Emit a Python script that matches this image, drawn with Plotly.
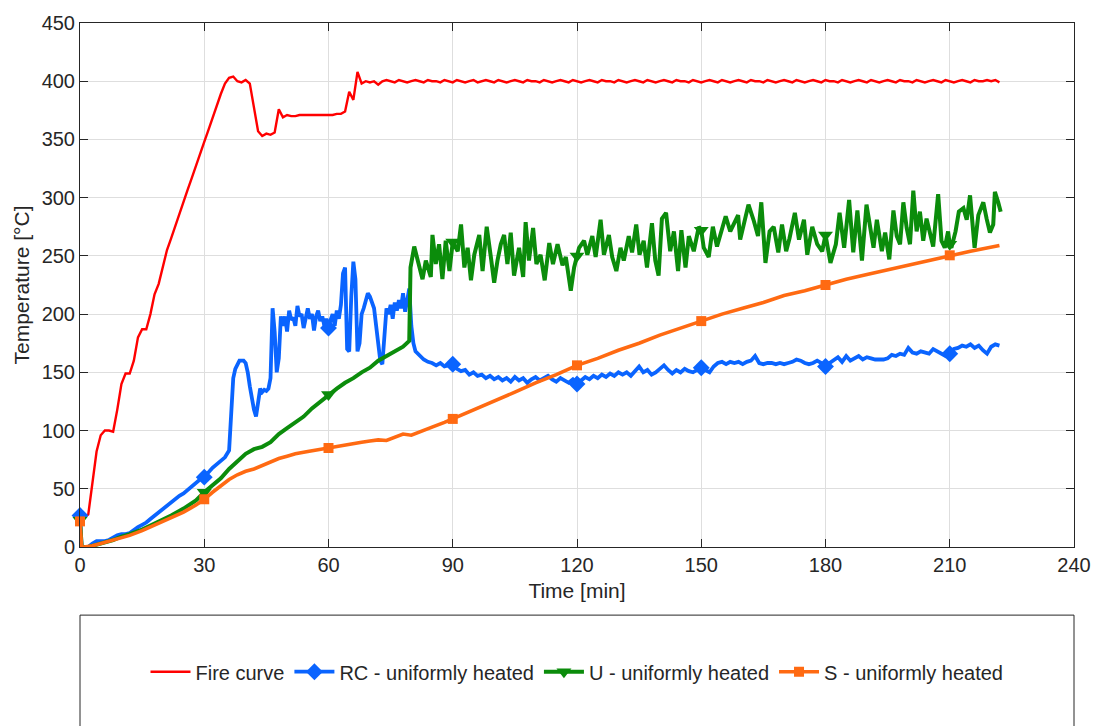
import numpy as np
import plotly.graph_objects as go

# ---------------- data ----------------
fire_t = list(range(0, 223))
fire_T = [27, 25, 28, 55, 82, 96, 100, 100, 99, 118,
          140, 149, 149, 160, 180, 187, 187, 200, 217, 226,
          240, 255, 265, 276, 286, 297, 307, 317, 328, 338,
          348, 358, 369, 379, 389, 398, 403, 404, 400, 399,
          401, 398, 378, 357, 353, 355, 354, 356, 376, 369,
          371, 370, 370, 371, 371, 371, 371, 371, 371, 371,
          371, 371, 372, 372, 374, 391, 384, 408, 398, 400,
          399, 400, 397,
          400, 401, 400, 399, 401, 400, 399, 400, 401, 400, 399, 401, 400, 400, 399,
          401, 400, 399, 401, 400, 399, 400, 401, 399, 400, 401, 400, 399, 401, 400,
          399, 400, 401, 400, 399, 401, 400, 400, 399, 401, 400, 399, 400, 401, 400,
          399, 401, 400, 399, 400, 401, 400, 399, 401, 400, 400, 399, 401, 400, 399,
          400, 401, 400, 399, 401, 400, 399, 400, 401, 400, 399, 401, 400, 400, 399,
          401, 400, 399, 400, 401, 400, 399, 401, 400, 399, 400, 401, 400, 399, 401,
          400, 400, 399, 401, 400, 399, 400, 401, 400, 399, 401, 400, 399, 400, 401,
          400, 399, 401, 400, 400, 399, 401, 400, 399, 400, 401, 400, 399, 401, 400,
          399, 400, 401, 400, 399, 401, 400, 400, 399, 401, 400, 399, 400, 401, 400,
          399, 401, 400, 399, 400, 401, 400, 399, 401, 400, 400, 401, 400, 401, 399]

rc_t = ([0, 0.4] + list(range(1, 37)) +
        [36.5, 37, 37.5, 38, 38.5, 39, 39.5, 40, 40.5, 41, 41.5, 42, 42.5, 43, 43.5, 44, 44.5,
         45, 45.5, 46, 46.5, 47, 47.5, 48, 48.5, 49, 49.5, 50, 50.5, 51, 51.5, 52, 52.5, 53,
         53.5, 54, 54.5, 55, 55.5, 56, 56.5, 57, 57.5, 58, 58.5, 59, 59.5, 60, 60.5, 61, 61.5,
         62, 62.5, 63, 63.5, 64, 64.5, 65, 65.5, 66, 66.5, 67, 67.5, 68, 68.5, 69, 69.5, 70,
         70.5, 71, 71.5, 72, 72.5, 73, 73.5, 74, 74.5, 75, 75.5, 76, 76.5, 77, 77.5, 78, 78.5,
         79, 79.5, 80, 80.5, 81] + list(range(82, 223)))
rc_T = [27, 0, 0, 0, 3, 5, 5, 5, 6, 8, 10, 11, 11, 12, 15, 17, 19, 21, 24, 27, 29, 32, 35, 38,
        41, 44, 46, 49, 52, 55, 57, 60, 64, 68, 71, 74, 77, 83,
        110, 145, 153, 157, 160, 160, 160, 158, 150, 138, 125, 118, 112, 125, 136, 133, 135,
        134, 136, 145, 205, 185, 150, 162, 198, 190, 198, 185, 203, 195, 197, 190, 207, 198,
        200, 188, 195, 205, 196, 200, 186, 198, 203, 194, 198, 190, 196, 188, 195, 200, 190,
        203, 196, 208, 235, 240, 170, 168, 215, 245, 230, 168, 175, 200, 205, 212, 218, 215,
        210, 205, 190, 175, 160, 157, 185, 205, 200, 208, 196, 210, 203, 212, 205, 218, 202,
        212, 222, 190, 175, 168,
        164, 161, 159, 158, 156, 158, 155, 156, 157, 153, 151, 152, 148, 150, 147, 148, 145,
        147, 144, 146, 143, 145, 142, 146, 143, 145, 141, 144, 146, 143, 145, 147, 144, 142,
        145, 143, 141, 144, 140, 143, 146, 144, 147, 145, 148, 146, 149, 147, 150, 148, 150,
        147, 151, 155, 150, 152, 148, 150, 153, 156, 152, 149, 152, 150, 153, 151, 150, 152,
        154, 152, 150, 155, 158, 159, 157, 159, 158, 159, 157, 159, 160, 164, 158, 157, 158,
        158, 157, 158, 157, 158, 159, 161, 160, 158, 157, 158, 160, 158, 155, 158, 161, 163,
        159, 164, 160, 162, 164, 161, 163, 162, 161, 161, 161, 162, 165, 164, 166, 165, 171,
        167, 166, 168, 167, 166, 170, 168, 166, 164, 166, 170, 171, 173, 172, 174, 171, 173,
        169, 166, 172, 174, 173]

u_t = [0, 0.4, 1, 2, 3, 5, 8, 10, 12, 15, 18, 20, 22, 25, 28, 30, 32, 34, 36, 38, 40, 42, 44,
       46, 48, 50, 52, 54, 56, 58, 60, 62, 64, 66, 68, 70, 72, 74, 76, 78, 79.5,
       79.8, 80.7, 81.9, 82.7, 83.5, 84.7, 85.1, 85.9, 86.7, 87.5, 88.3, 89.2, 90, 91.2, 92,
       92.8, 93.6, 94.4, 95.2, 96.4, 97.2, 98.2, 99.2, 100, 100.8, 101.6, 102.4, 103.2, 104,
       104.8, 106, 107, 107.6, 108.4, 109.4, 110.2, 111.2, 112.2, 113.3, 114.2, 115.3, 116.5,
       117.3, 118.5, 119.3, 120, 120.5, 121.7, 122.5, 123.7, 124.5, 125.7, 126.5, 127.7,
       128.5, 129.5, 130.5, 131.3, 132.5, 133.3, 134.3, 135.1, 136.1, 136.9, 138.1, 138.9,
       139.7, 140.5, 141.5, 142.5, 143.4, 144.4, 145.2, 146.2, 147, 148.2, 149.4, 150, 150.6,
       151.8, 152.8, 153.8, 154.8, 155.9, 157, 158.2, 158.9, 159.4, 160.5, 161.4, 162.7,
       163.7, 164.5, 165.5, 166.5, 167.5, 168.6, 169.5, 170.5, 171.3, 172.6, 173.6, 174.8,
       175.6, 176.8, 178, 179.2, 180, 181.2, 182.5, 183.4, 184.5, 185.7, 186.7, 187.7, 188.8,
       189.9, 191, 191.6, 192.4, 193.6, 194.4, 195.4, 196.4, 197.2, 198, 198.8, 199.6, 200.4,
       201.2, 202, 202.8, 203.6, 204.4, 205.2, 206, 207.2, 208, 208.8, 209.6, 210, 210.4,
       211.4, 212.2, 213.3, 214.1, 214.9, 216, 216.9, 218.1, 218.9, 219.7, 220.5, 220.9,
       221.7, 222.3]
u_T = [23, 0, 0, 0, 1, 3, 6, 9, 11, 15, 20, 23, 27, 33, 40, 47, 53, 59, 67, 74, 80, 84, 86,
       90, 97, 102, 107, 112, 119, 125, 131, 136, 141, 145, 150, 154, 160, 164, 168, 172, 177,
       240, 258, 243, 230, 246, 232, 268, 243, 260, 230, 263, 237, 262, 254, 277,
       240, 257, 229, 251, 268, 237, 275, 249, 227, 246, 260, 268, 243, 270,
       233, 257, 232, 279, 246, 274, 243, 251, 229, 261, 243, 260, 242,
       249, 220, 240, 250, 257, 263, 251, 267, 249, 281, 251, 268,
       249, 237, 257, 246, 267, 253, 277, 251, 263, 240, 278, 246,
       233, 282, 287, 254, 271, 237, 272, 240, 267, 254, 275, 272, 257,
       249, 275, 258, 271, 284, 271, 281, 285, 264, 280, 294, 280,
       267, 296, 244, 271, 275, 253, 277, 254, 265, 287, 264, 281,
       251, 275, 260, 254, 268, 244, 260, 287, 257, 298, 253, 289, 246,
       294, 271, 257, 281, 254, 270, 247, 289, 267, 260, 296, 274, 260,
       306, 271, 288, 263, 282, 271, 258, 303, 263, 257, 271, 260, 257,
       271, 288, 291, 281, 302, 257, 285, 296, 282, 270, 277, 305,
       296, 288]

s_t = [0, 0.4, 1, 3, 5, 8, 10, 12, 15, 18, 20, 22, 25, 28, 30, 32, 34, 36, 38, 40, 42, 44, 46,
       48, 50, 52, 55, 58, 60, 62, 64, 66, 68, 70, 72, 74, 76, 78, 80, 82, 85, 88, 90, 95, 100,
       105, 110, 115, 120, 125, 130, 135, 140, 145, 150, 155, 160, 165, 170, 175, 180, 185,
       190, 195, 200, 205, 210, 215, 222]
s_T = [22, 0, 0, 1, 3, 6, 8, 10, 14, 19, 22, 25, 30, 36, 41, 47, 53, 58, 62, 65, 67, 70, 73,
       76, 78, 80, 82, 84, 85, 86, 88, 89, 90, 91, 92, 91.5, 94, 97, 96, 99, 103, 107, 110, 118,
       125, 133, 141, 148, 156, 162, 169, 175, 182, 188, 194, 200, 205, 210, 216, 220, 225, 230,
       234, 238, 242, 246, 250.5, 254, 259]

x_ticks = [0, 30, 60, 90, 120, 150, 180, 210, 240]
y_ticks = [0, 50, 100, 150, 200, 250, 300, 350, 400, 450]
names = ["Fire curve", "RC - uniformly heated", "U - uniformly heated", "S - uniformly heated"]

# ---------------- styles ----------------
RED, BLUE, GREEN, ORANGE = "#ff0000", "#0a64ff", "#0b8c0b", "#ff6a12"
FONT = "Liberation Sans, Arial, sans-serif"
TXT = "#262626"

series = [
    (fire_t, fire_T, RED, 2.4, None, 0),
    (rc_t, rc_T, BLUE, 3.8, "diamond", 13),
    (u_t, u_T, GREEN, 4.0, "triangle-down", 13),
    (s_t, s_T, ORANGE, 3.6, "square", 10),
]

fig = go.Figure()
for (t, T, col, lw, sym, ms), name in zip(series, names):
    fig.add_trace(go.Scatter(x=t, y=T, mode="lines", line=dict(color=col, width=lw),
                             showlegend=False, hoverinfo="skip"))
    if sym:
        ta = np.array(t, dtype=float)
        Ta = np.array(T, dtype=float)
        m = np.isclose(np.mod(ta, 30), 0) & (ta <= 222)
        fig.add_trace(go.Scatter(x=ta[m], y=Ta[m], mode="markers", cliponaxis=False,
                                 marker=dict(symbol=sym, size=ms, color=col),
                                 showlegend=False, hoverinfo="skip"))

# legend entries (line + marker)
for (t, T, col, lw, sym, ms), name in zip(series, names):
    fig.add_trace(go.Scatter(x=[None], y=[None], name=name,
                             mode="lines+markers" if sym else "lines",
                             line=dict(color=col, width=lw),
                             marker=dict(symbol=sym or "circle", size=ms if sym else 1, color=col)))

axis_common = dict(showline=True, linecolor=TXT, linewidth=1, mirror="ticks",
                   ticks="inside", ticklen=8, tickcolor=TXT, tickwidth=1,
                   showgrid=True, gridcolor="#dedede", gridwidth=1, zeroline=False,
                   tickfont=dict(family=FONT, size=20, color=TXT))

fig.update_layout(
    width=1103, height=726,
    margin=dict(l=80, r=27, t=17, b=179),
    paper_bgcolor="white", plot_bgcolor="white",
    font=dict(family=FONT, color=TXT),
    xaxis=dict(range=[0, 240], tickvals=x_ticks, ticktext=[str(v) for v in x_ticks],
               title=dict(text="Time [min]", font=dict(family=FONT, size=21, color=TXT),
                          standoff=8),
               **axis_common),
    yaxis=dict(range=[0, 450], tickvals=y_ticks, ticktext=[str(v) for v in y_ticks],
               title=dict(text="Temperature [°C]", font=dict(family=FONT, size=21, color=TXT),
                          standoff=6),
               **axis_common),
    legend=dict(orientation="h", x=0.5, xanchor="center", y=-0.238, yanchor="middle",
                font=dict(family=FONT, size=20, color=TXT), bgcolor="rgba(0,0,0,0)",
                itemwidth=40, traceorder="normal", tracegroupgap=0),
    shapes=[dict(type="rect", xref="paper", yref="paper", x0=0, x1=1, y0=-0.130, y1=-0.40,
                 line=dict(color=TXT, width=1), fillcolor="rgba(0,0,0,0)", layer="above")],
)

fig.write_html("out.html")
